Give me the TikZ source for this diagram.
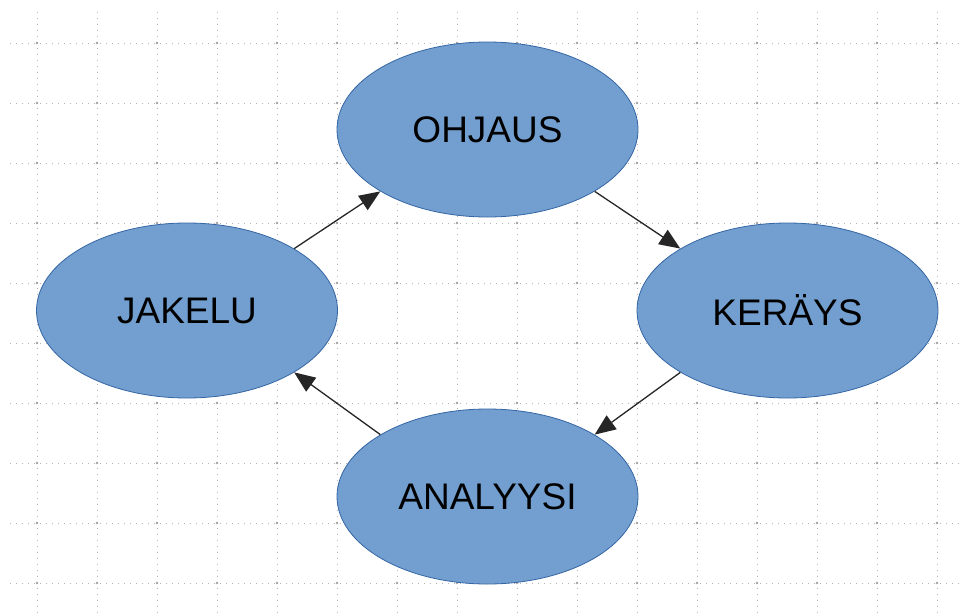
\documentclass[tikz,border=0pt]{standalone}
\usepackage{fontspec}
\setmainfont{Liberation Sans}
\usetikzlibrary{arrows.meta,shapes.geometric}
\definecolor{ellfill}{HTML}{729FCF}
\definecolor{elldraw}{HTML}{3465A4}
\definecolor{gridc}{HTML}{B4B4B4}
\tikzset{
  phase/.style={ellipse, draw=elldraw, line width=0.8pt, fill=ellfill,
    minimum width=301pt, minimum height=175pt, inner sep=0pt,
    font=\fontsize{37}{44}\selectfont, text=black},
  flow/.style={draw=black!85, line width=1.3pt,
    -{Triangle[length=21pt,width=17pt]}},
  gridline/.style={gridc, line width=0.9pt, dash pattern=on 0.9pt off 5.1pt},
}
\begin{document}
\begin{tikzpicture}[x=1pt,y=-1pt]
  \fill[white] (0,0) rectangle (960,613);
  \useasboundingbox (0,0) rectangle (960,613);
  % dotted background grid
  \foreach \gx in {37,97,...,937} {
    \draw[gridline] (\gx,12) -- (\gx,613);
  }
  \foreach \gy in {43,103,...,583} {
    \draw[gridline] (10,\gy) -- (960,\gy);
    \foreach \gx in {37,97,...,937} {
      \fill[gridc!90!black] (\gx,\gy) circle (1.4pt);
    }
  }
  % phases of the cycle
  \node[phase] (ohjaus)   at (487.5,129.5) {OHJAUS};
  \node[phase] (kerays)   at (787.5,310.5) {KERÄYS};
  \node[phase] (analyysi) at (487.5,496.5) {ANALYYSI};
  \node[phase] (jakelu)   at (187,310.5)   {JAKELU};
  % cycle arrows
  \draw[flow] (jakelu.30)    -- (ohjaus.210);
  \draw[flow] (ohjaus.330)   -- (kerays.150);
  \draw[flow] (kerays.210)   -- (analyysi.30);
  \draw[flow] (analyysi.150) -- (jakelu.330);
\end{tikzpicture}
\end{document}
